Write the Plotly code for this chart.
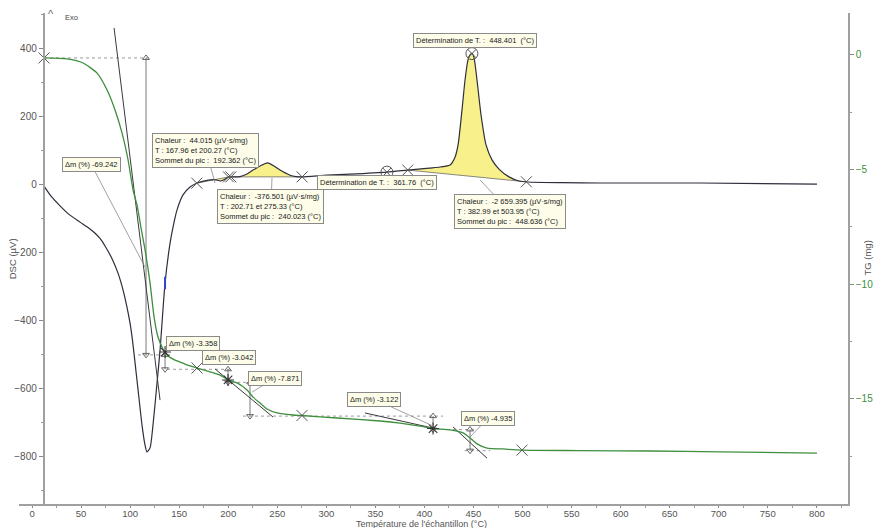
import numpy as np
import plotly.graph_objects as go

# ---------------- measured curves ----------------
# DSC signal (µV) against sample temperature (°C)
dsc_temp = [12.2, 20, 28.5, 38, 48.9, 59, 64, 69.3, 75, 82.6, 88, 92.8, 96.5, 99.9, 102.5,
            105.0, 108.1, 112.1, 115.2, 117.2, 120.3, 123.3, 127.4, 130.5, 135.6, 140.7,
            144.8, 147.8, 153.9, 161.1, 168.2, 178.4, 186, 192.4, 197, 200.3, 205, 212,
            218, 225.3, 234.5, 240.2, 246.7, 252.8, 263.0, 269, 275.3, 300.7, 324.2,
            361.8, 383.0, 405, 416, 426.1, 431.2, 434.3, 438.3, 441.4, 444.4, 446.5,
            448.6, 450.6, 453.6, 457.7, 462.8, 468.9, 476.0, 486.2, 496.4, 505.6, 540,
            579.0, 681.0, 800.2]
dsc_uv = [-6, -38, -64, -90, -112, -132, -144, -160, -185, -226, -265, -312, -358, -409, -462,
          -526, -606, -709, -768, -788, -776, -709, -585, -488, -291, -174,
          -112, -76, -32, -9, 3, 11, 13, 9, 15, 21, 21, 22,
          28, 41, 56, 62, 53, 41, 26, 22, 21, 26, 29,
          35, 41, 47, 50, 56, 79, 115, 218, 306, 365, 380,
          384, 371, 306, 203, 115, 71, 44, 21, 9, 6, 4,
          3, 3, 0]

# TG signal (mg) against sample temperature (°C)
tg_temp = [12.2, 35.7, 52.0, 66.3, 76.5, 84.6, 91.7, 97.9, 103.0, 107.0, 111.1, 115.2,
           120.3, 124.4, 128.4, 133.5, 137.6, 143.7, 150.9, 161.1, 168.2, 181.4, 191.6,
           199.8, 209.0, 219.2, 225.3, 232.4, 239.6, 249.7, 266.1, 275.2, 310.9, 354.7,
           375.1, 395.5, 408.8, 426.1, 439.3, 446.5, 453.6, 463.8, 480.1, 499.5, 558.6,
           630.0, 701.3, 800.2]
tg_mg = [-0.13, -0.17, -0.35, -0.79, -1.53, -2.40, -3.40, -4.58, -5.89, -6.54, -7.54, -8.50,
         -9.94, -11.43, -12.30, -12.82, -13.08, -13.26, -13.39, -13.56, -13.65, -13.82, -13.96,
         -14.17, -14.30, -14.61, -14.92, -15.18, -15.44, -15.61, -15.70, -15.72, -15.83, -15.96,
         -16.05, -16.18, -16.29, -16.35, -16.48, -16.70, -16.96, -17.14, -17.18, -17.23, -17.25,
         -17.27, -17.31, -17.36]

# ---------------- evaluation results ----------------
sample_mass_mg = 18.70
tg_start_mg = -0.13
dm_pct = [-69.242, -3.358, -3.042, -7.871, -3.122, -4.935]
dm_arrow_temp = [116.2, 135.6, 199.8, 222.2, 408.8, 446.5]
# horizontal reference levels: start/end temperature of each dotted guide
level_spans = [(12.2, 122.0), (108.0, 141.0), (137.6, 202.0), (197.0, 227.0),
               (215.0, 419.0), (423.0, 451.6), (441.0, 467.0)]
# Δm labels: anchor point (temp, mg) and pixel offset of the box (None = box sits on the point)
dm_label_targets = [(115.2, -9.25), (164.1, -12.56), (200.8, -13.17), (224.3, -14.70),
                    (408.8, -16.18), (446.5, -16.66)]
dm_label_offsets = [(-54, -103), None, None, (23, -14), (-59, -27), (18, -19)]

peak_windows = [(167.96, 200.27), (202.71, 275.33), (382.99, 503.95)]
peak_heat = ["44.015", "-376.501", "-2 659.395"]
peak_top = ["192.362", "240.023", "448.636"]
peak_label_targets = [(186.5, 3), (244.6, 18), (456.7, 12)]
peak_label_offsets = [(-9, -33), (-1, 29), (30, 32)]

onset_temps = [361.76, 448.401]
tg_marks = [12.2, 168.2, 275.2, 499.5]
tg_clusters = [135.6, 199.8, 408.8]

# tangent construction lines on the TG curve (temp, mg)
tangents = [((83.6, 1.18), (130.5, -15.05)),
            ((186.5, -13.69), (245.7, -15.79)),
            ((339.4, -15.61), (408.8, -16.27)),
            ((429.2, -16.22), (463.8, -17.58))]

DSC_COLOR = "#2e2e3c"
TG_COLOR = "#3d8f3d"
FILL = "#f8f08a"
MARK = "#555555"
FONT = "Arial, Liberation Sans, sans-serif"

fig = go.Figure()

# yellow integrated peak areas between curve and linear baseline
dsc_t = np.array(dsc_temp, dtype=float)
dsc_v = np.array(dsc_uv, dtype=float)
for (t0, t1) in peak_windows:
    v0, v1 = np.interp(t0, dsc_t, dsc_v), np.interp(t1, dsc_t, dsc_v)
    inside = (dsc_t > t0) & (dsc_t < t1)
    px = np.concatenate([[t0], dsc_t[inside], [t1]])
    py = np.concatenate([[v0], dsc_v[inside], [v1]])
    bx = np.linspace(t1, t0, 12)
    by = np.linspace(v1, v0, 12)
    fig.add_trace(go.Scatter(x=np.concatenate([px, bx]), y=np.concatenate([py, by]),
                             fill="toself", fillcolor=FILL, mode="lines",
                             line=dict(width=0), yaxis="y", hoverinfo="skip"))
    fig.add_trace(go.Scatter(x=[t0, t1], y=[v0, v1], mode="lines",
                             line=dict(color="#6a6a6a", width=0.8), yaxis="y"))

# dotted level guides and Δm arrows on the TG axis
levels = [tg_start_mg]
for p in dm_pct:
    levels.append(levels[-1] + p / 100.0 * sample_mass_mg)
for lv, (a, b) in zip(levels, level_spans):
    fig.add_trace(go.Scatter(x=[a, b], y=[lv, lv], mode="lines", yaxis="y2",
                             line=dict(color="#9a9a9a", width=1, dash="dot")))
for i, t in enumerate(dm_arrow_temp):
    fig.add_trace(go.Scatter(x=[t, t], y=[levels[i], levels[i + 1]], mode="lines+markers",
                             yaxis="y2", line=dict(color="#7a7a7a", width=1),
                             marker=dict(symbol=["triangle-up-open", "triangle-down-open"],
                                         size=6, color="#666", line=dict(color="#666", width=1))))

# tangents
for (p0, p1) in tangents:
    fig.add_trace(go.Scatter(x=[p0[0], p1[0]], y=[p0[1], p1[1]], mode="lines", yaxis="y2",
                             line=dict(color="#3a3a3a", width=1)))

# curves
fig.add_trace(go.Scatter(x=tg_temp, y=tg_mg, mode="lines", yaxis="y2",
                         line=dict(color=TG_COLOR, width=1.3, shape="spline", smoothing=0.6)))
fig.add_trace(go.Scatter(x=dsc_temp, y=dsc_uv, mode="lines", yaxis="y",
                         line=dict(color=DSC_COLOR, width=1.2, shape="spline", smoothing=0.6)))

# boundary crosses on DSC
cross_t = [t for w in peak_windows for t in w]
fig.add_trace(go.Scatter(x=cross_t, y=np.interp(cross_t, dsc_t, dsc_v), mode="markers",
                         yaxis="y", marker=dict(symbol="x-thin-open", size=11, color=MARK,
                                                line=dict(color=MARK, width=1))))
fig.add_trace(go.Scatter(x=onset_temps, y=np.interp(onset_temps, dsc_t, dsc_v),
                         mode="markers", yaxis="y",
                         marker=dict(symbol="circle-x-open", size=12, color=MARK,
                                     line=dict(color=MARK, width=1))))
# small blue tick on the rising flank
fig.add_trace(go.Scatter(x=[135.6], y=[-291], mode="markers", yaxis="y",
                         marker=dict(symbol="line-ns", size=9, color="#3344cc",
                                     line=dict(color="#3344cc", width=2))))

# step crosses on TG
tg_t = np.array(tg_temp, dtype=float)
tg_v = np.array(tg_mg, dtype=float)
fig.add_trace(go.Scatter(x=tg_marks, y=np.interp(tg_marks, tg_t, tg_v), mode="markers",
                         yaxis="y2", marker=dict(symbol="x-thin-open", size=11, color=MARK,
                                                 line=dict(color=MARK, width=1))))
fig.add_trace(go.Scatter(x=tg_clusters, y=np.interp(tg_clusters, tg_t, tg_v), mode="markers",
                         yaxis="y2", marker=dict(symbol="asterisk-open", size=10, color="#333",
                                                 line=dict(color="#333", width=1.1))))

# ---------------- annotations ----------------
box = dict(bgcolor="#fdfde9", bordercolor="#8a8a8a", borderwidth=1, borderpad=2,
           font=dict(family=FONT, size=7.5, color="#222"), align="left",
           arrowcolor="#8a8a8a", arrowwidth=0.8, arrowhead=0)

for i, p in enumerate(dm_pct):
    tx, ty = dm_label_targets[i]
    off = dm_label_offsets[i]
    txt = f"Δm (%) {p:.3f}"
    if off is None:
        fig.add_annotation(x=tx, y=ty, xref="x", yref="y2", text=txt, showarrow=False, **box)
    else:
        fig.add_annotation(x=tx, y=ty, xref="x", yref="y2", text=txt, showarrow=True,
                           ax=off[0], ay=off[1], **box)

for i, (t0, t1) in enumerate(peak_windows):
    txt = (f"Chaleur :  {peak_heat[i]} (µV·s/mg)<br>T : {t0:.2f} et {t1:.2f} (°C)"
           f"<br>Sommet du pic :  {peak_top[i]} (°C)")
    tx, ty = peak_label_targets[i]
    ax_, ay_ = peak_label_offsets[i]
    fig.add_annotation(x=tx, y=ty, xref="x", yref="y", text=txt, showarrow=True,
                       ax=ax_, ay=ay_, **box)

fig.add_annotation(x=451.6, y=423, xref="x", yref="y", showarrow=False,
                   text=f"Détermination de T. :  {onset_temps[1]:.3f}  (°C)", **box)
fig.add_annotation(x=351.7, y=4, xref="x", yref="y", showarrow=False,
                   text=f"Détermination de T. :  {onset_temps[0]:.2f}  (°C)", **box)

axis_font = dict(family=FONT, size=9, color="#555")
centered = dict(xref="paper", yref="paper", showarrow=False, xanchor="center", yanchor="middle")
fig.add_annotation(x=0.486, y=-0.0415, text="Température de l'échantillon (°C)",
                   font=axis_font, **centered)
fig.add_annotation(x=-0.0075, y=0.50, text="DSC (µV)", textangle=-90,
                   font=dict(family=FONT, size=9.5, color="#555"), **centered)
fig.add_annotation(x=1.023, y=0.50, text="TG (mg)", textangle=-90,
                   font=dict(family=FONT, size=9.5, color="#555"), **centered)
fig.add_annotation(x=0.039, y=0.997, text="^", font=dict(family=FONT, size=11, color="#666"),
                   **centered)
fig.add_annotation(x=0.063, y=0.991, text="Exo", font=dict(family=FONT, size=7.5, color="#444"),
                   **centered)

tickfont = dict(family=FONT, size=10, color="#555")
fig.update_layout(
    width=879, height=528,
    margin=dict(l=19, r=31, t=13, b=24, autoexpand=False),
    paper_bgcolor="white", plot_bgcolor="white",
    showlegend=False, hovermode=False,
    xaxis=dict(range=[-13.3, 831.8], tick0=0, dtick=50, ticks="outside", ticklen=2,
               tickcolor="#888", showline=True, linecolor="#a0a0a0", linewidth=1.5,
               showgrid=False, zeroline=False, automargin=False, ticklabelstandoff=-2,
               tickfont=dict(family=FONT, size=9.5, color="#555"),
               minor=dict(dtick=25, ticks="outside", ticklen=2, tickcolor="#999")),
    yaxis=dict(range=[-941, 503], tick0=0, dtick=200, ticks="outside", ticklen=4,
               tickcolor="#888", showline=True, linecolor="#a0a0a0", linewidth=1.5,
               showgrid=False, zeroline=False, tickfont=tickfont, automargin=False,
               anchor="free", position=0.0296, side="left",
               minor=dict(dtick=100, ticks="outside", ticklen=2, tickcolor="#999")),
    yaxis2=dict(range=[-19.58, 1.83], tick0=0, dtick=5, ticks="outside", ticklen=4,
                tickcolor="#888", showline=True, linecolor="#a0a0a0", linewidth=1.5,
                showgrid=False, zeroline=False, automargin=False,
                tickfont=dict(family=FONT, size=10, color=TG_COLOR),
                overlaying="y", side="right", anchor="x",
                minor=dict(dtick=2.5, ticks="outside", ticklen=2, tickcolor="#999")),
)

fig.write_html("out.html")
